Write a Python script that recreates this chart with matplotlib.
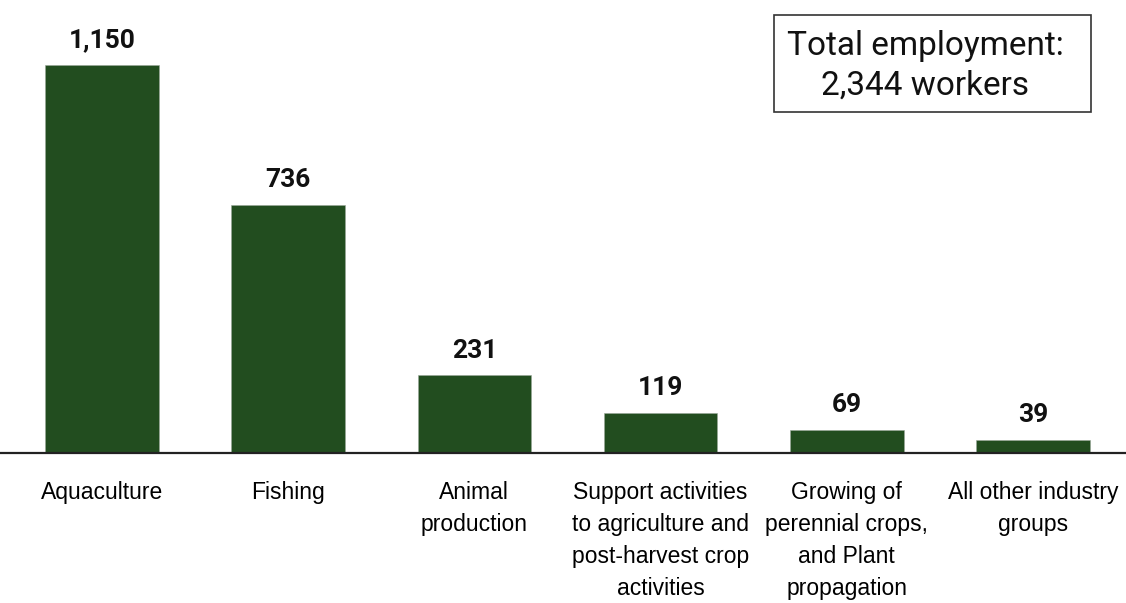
import matplotlib
matplotlib.use("Agg")
import matplotlib.pyplot as plt
from matplotlib.patches import Rectangle
from matplotlib import font_manager

categories = [
    "Aquaculture",
    "Fishing",
    "Animal\nproduction",
    "Support activities\nto agriculture and\npost-harvest crop\nactivities",
    "Growing of\nperennial crops,\nand Plant\npropagation",
    "All other industry\ngroups",
]
workers = [1150, 736, 231, 119, 69, 39]
total_label = "Total employment:\n2,344 workers"

names = {f.name for f in font_manager.fontManager.ttflist}
if "Liberation Sans Narrow" in names:
    cat_font, cat_size, cat_ls = "Liberation Sans Narrow", 20, 1.15
else:
    cat_font, cat_size, cat_ls = "Liberation Sans", 16.5, 1.5

bar_color = "#224d1f"
W, H = 1126, 603

fig = plt.figure(figsize=(W / 100, H / 100), dpi=100)
ax = fig.add_axes([0, 1 - 453 / H, 1, 453 / H])

x = range(len(categories))
ax.bar(x, workers, width=0.61, color=bar_color, edgecolor="#9aa89a", linewidth=0.4)

for xi, v in zip(x, workers):
    ax.annotate(f"{v:,}", (xi, v), xytext=(0, 9), textcoords="offset points",
                ha="center", va="bottom", fontsize=19, fontweight="bold",
                family="Roboto", color="#111111")

ax.set_xlim(-0.548, 5.5)
ax.set_ylim(0, 1343)
ax.set_xticks(list(x))
ax.set_xticklabels(categories, fontsize=cat_size, family=cat_font, linespacing=cat_ls, va="top")
ax.tick_params(axis="x", length=0, pad=20)
ax.set_yticks([])
for s in ["top", "left", "right"]:
    ax.spines[s].set_visible(False)
ax.spines["bottom"].set_linewidth(1.6)
ax.spines["bottom"].set_color("#222222")

# total box, drawn in pixel positions of the figure
bx0, bx1, by0, by1 = 774, 1091, 15, 112
fig.patches.append(Rectangle((bx0 / W, 1 - by1 / H), (bx1 - bx0) / W, (by1 - by0) / H,
                             transform=fig.transFigure, facecolor="white",
                             edgecolor="#333333", linewidth=1.2))
fig.text(925 / W, 1 - 66 / H, total_label, ha="center", va="center", fontsize=24,
         family="Roboto", fontweight="normal", linespacing=1.3, color="#111111")

fig.savefig("out.png", dpi=100)
